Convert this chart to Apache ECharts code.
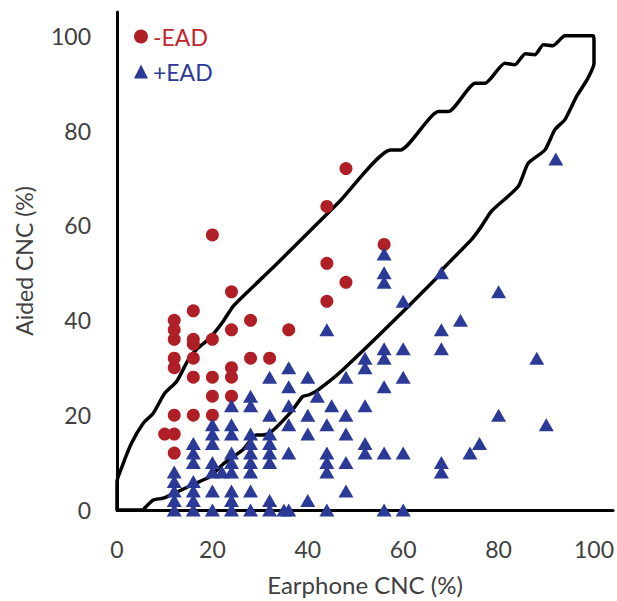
<!DOCTYPE html>
<html>
<head>
<meta charset="utf-8">
<style>
  html, body { margin: 0; padding: 0; background: #fff; }
  #chart-cnc { width: 617px; height: 601px; }
</style>
<script src="https://cdn.jsdelivr.net/npm/echarts@6/dist/echarts.min.js"></script>
</head>
<body>
<div id="chart-cnc"></div>
<script>
// -EAD group: [earphone CNC, aided CNC]
var eadNeg = [
  [10, 16], [12, 12], [12, 16], [12, 20], [12, 30], [12, 32], [12, 36], [12, 38], [12, 40],
  [16, 20], [16, 28], [16, 32], [16, 35], [16, 36], [16, 42],
  [20, 20], [20, 24], [20, 28], [20, 36], [20, 58],
  [24, 24], [24, 28], [24, 30], [24, 38], [24, 46],
  [28, 32], [28, 40], [32, 32], [36, 38],
  [44, 44], [44, 52], [44, 64], [48, 48], [48, 72], [56, 56]
];

// +EAD group
var eadPos = [
  [12, 0], [12, 2], [12, 4], [12, 6], [12, 8],
  [16, 0], [16, 2], [16, 4], [16, 6], [16, 10], [16, 12], [16, 14],
  [20, 0], [20, 4], [20, 8], [20, 10], [20, 14], [20, 16], [20, 18], [22, 8],
  [24, 0], [24, 2], [24, 4], [24, 8], [24, 10], [24, 12], [24, 16], [24, 18], [24, 22],
  [28, 0], [28, 4], [28, 8], [28, 10], [28, 12], [28, 14], [28, 16], [28, 22], [28, 24],
  [32, 0], [32, 2], [32, 10], [32, 12], [32, 14], [32, 16], [32, 20], [32, 28],
  [35, 0], [36, 0], [36, 12], [36, 18], [36, 22], [36, 26], [36, 30],
  [40, 2], [40, 16], [40, 20], [40, 28], [42, 24],
  [44, 0], [44, 8], [44, 10], [44, 12], [44, 18], [44, 38], [45, 22],
  [48, 4], [48, 10], [48, 16], [48, 20], [48, 28],
  [52, 12], [52, 14], [52, 22], [52, 30], [52, 32],
  [56, 0], [56, 12], [56, 26], [56, 32], [56, 34], [56, 48], [56, 50], [56, 54],
  [60, 0], [60, 12], [60, 28], [60, 34], [60, 44],
  [68, 8], [68, 10], [68, 34], [68, 38], [68, 50],
  [72, 40], [74, 12], [76, 14], [80, 20], [80, 46], [88, 32], [90, 18], [92, 74]
];

// outline of the critical-difference region, traced in order
var envelope = [
  [0, 0], [0, 6], [1, 9], [3, 14], [5.5, 18.3], [7.6, 20.4], [10, 24.6], [12.5, 27.1],
  [14.9, 31.6], [16.6, 33.8], [19.4, 36.2], [22.2, 39.7], [24.3, 42.9], [27.8, 46.4],
  [33.3, 51.7], [46.6, 65], [57.4, 75.9], [59.4, 75.9], [67.4, 84], [69.5, 84],
  [75.1, 90], [77.2, 90], [81.3, 94.2], [83.4, 93.9], [85.6, 96.2], [87.6, 96],
  [89.4, 98.1], [91.4, 97.9], [93.9, 100], [99.8, 100], [100, 99], [100, 94.2],
  [98.7, 91], [96.3, 87.1], [93.9, 82.3], [91.8, 80.2], [89.7, 75.9], [86.2, 73.1],
  [84.1, 68.2], [78.5, 63], [76.4, 59.8], [74.3, 57], [68.1, 50.6], [67, 48.9],
  [47.3, 29.5], [42, 25.2], [40.3, 24.3], [38.9, 23.9], [36.5, 20.7], [32, 16.2],
  [30.2, 15.8], [29.2, 15.8], [26.4, 12.7], [22.5, 9.9], [19.4, 7], [17.3, 6],
  [12.8, 3.9], [9.7, 2.5], [7.6, 2.1], [5.8, 0.4], [5.5, 0], [0, 0]
];

var tickStep = 20;
var xName = 'Earphone CNC (%)';
var yName = 'Aided CNC (%)';

(function () {
  var red = '#B01F26', blue = '#2B3A97';
  var ink = '#404040';
  var font = 'Lato, "Open Sans", sans-serif';

  var el = document.getElementById('chart-cnc');
  var chart = echarts.init(el, null, { renderer: 'svg' });

  function tickLabel(v) {
    return v % tickStep === 0 ? String(v) : '';
  }

  chart.setOption({
    animation: false,
    textStyle: { fontFamily: font },
    grid: { left: 117, right: 3, top: 12, bottom: 91 },
    legend: {
      orient: 'vertical',
      left: 129,
      top: 20,
      itemWidth: 14,
      itemHeight: 14,
      itemGap: 12,
      data: [
        { name: '-EAD', icon: 'circle', textStyle: { color: '#C1272D' } },
        { name: '+EAD', icon: 'triangle', textStyle: { color: '#2E3A9A' } }
      ],
      textStyle: { fontSize: 23, fontFamily: font }
    },
    xAxis: {
      type: 'value',
      min: 0,
      max: 104,
      interval: tickStep,
      name: xName,
      nameLocation: 'middle',
      nameGap: 62,
      nameTextStyle: { color: ink, fontSize: 24 },
      splitLine: { show: false },
      axisTick: { show: false },
      axisLine: { lineStyle: { color: '#000', width: 3 } },
      axisLabel: { color: ink, fontSize: 23, margin: 27, formatter: tickLabel }
    },
    yAxis: {
      type: 'value',
      min: 0,
      max: 105,
      interval: tickStep,
      name: yName,
      nameLocation: 'middle',
      nameGap: 82,
      nameTextStyle: { color: ink, fontSize: 23 },
      splitLine: { show: false },
      axisTick: { show: false },
      axisLine: { lineStyle: { color: '#000', width: 3 } },
      axisLabel: { color: ink, fontSize: 23, margin: 26, formatter: tickLabel }
    },
    series: [
      {
        name: 'envelope',
        type: 'line',
        data: envelope,
        showSymbol: false,
        symbol: 'none',
        smooth: 0.2,
        silent: true,
        z: 1,
        lineStyle: { color: '#000', width: 3.5 }
      },
      {
        name: '-EAD',
        type: 'scatter',
        data: eadNeg,
        symbol: 'circle',
        symbolSize: 13,
        z: 3,
        itemStyle: { color: red, opacity: 1 }
      },
      {
        name: '+EAD',
        type: 'scatter',
        data: eadPos,
        symbol: 'triangle',
        symbolSize: [15, 13],
        z: 4,
        itemStyle: { color: blue, opacity: 1 }
      }
    ]
  });
  window.addEventListener('resize', function () { chart.resize(); });
})();
</script>
</body>
</html>
